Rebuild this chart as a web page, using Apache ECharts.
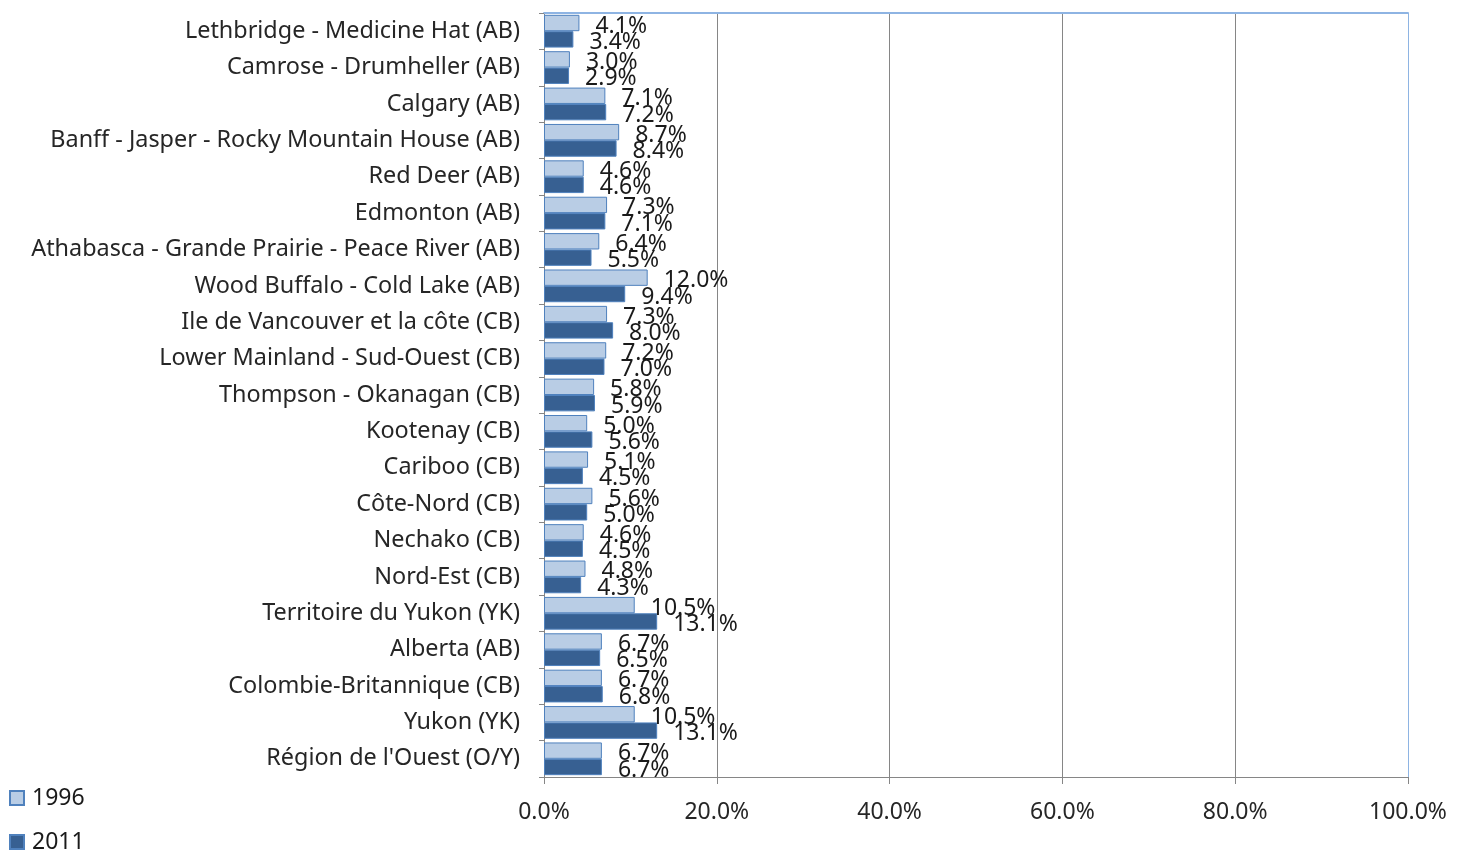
<!DOCTYPE html>
<html>
<head>
<meta charset="utf-8">
<script src="https://cdn.jsdelivr.net/npm/echarts@6/dist/echarts.min.js"></script>
<style>
  html, body { margin: 0; padding: 0; background: #fff; }
  #chart { width: 1461px; height: 857px; }
</style>
</head>
<body>
<div id="chart"></div>
<script>
// Regions, listed top to bottom
const regions = [
  "Lethbridge - Medicine Hat (AB)",
  "Camrose - Drumheller (AB)",
  "Calgary (AB)",
  "Banff - Jasper - Rocky Mountain House (AB)",
  "Red Deer (AB)",
  "Edmonton (AB)",
  "Athabasca - Grande Prairie - Peace River (AB)",
  "Wood Buffalo - Cold Lake (AB)",
  "Ile de Vancouver et la côte (CB)",
  "Lower Mainland - Sud-Ouest (CB)",
  "Thompson - Okanagan (CB)",
  "Kootenay (CB)",
  "Cariboo (CB)",
  "Côte-Nord (CB)",
  "Nechako (CB)",
  "Nord-Est (CB)",
  "Territoire du Yukon (YK)",
  "Alberta (AB)",
  "Colombie-Britannique (CB)",
  "Yukon (YK)",
  "Région de l'Ouest (O/Y)"
];

// Shares in percent
const values1996 = [4.1, 3.0, 7.1, 8.7, 4.6, 7.3, 6.4, 12.0, 7.3, 7.2, 5.8, 5.0, 5.1, 5.6, 4.6, 4.8, 10.5, 6.7, 6.7, 10.5, 6.7];
const values2011 = [3.4, 2.9, 7.2, 8.4, 4.6, 7.1, 5.5, 9.4, 8.0, 7.0, 5.9, 5.6, 4.5, 5.0, 4.5, 4.3, 13.1, 6.5, 6.8, 13.1, 6.7];

const seriesNames = ["1996", "2011"];

const FONT = "Noto Sans";
const pct = v => v.toFixed(1) + "%";

const chart = echarts.init(document.getElementById("chart"), null, { renderer: "canvas" });

const labelStyle = {
  show: true,
  position: "right",
  distance: 16,
  offset: [0, 3],
  fontFamily: FONT,
  fontSize: 23,
  color: "#1a1a1a",
  formatter: p => pct(p.value)
};

chart.setOption({
  animation: false,
  backgroundColor: "#ffffff",
  textStyle: { fontFamily: FONT },
  grid: { left: 544, right: 53, top: 13, bottom: 80, containLabel: false },
  legend: {
    orient: "vertical",
    left: 9,
    top: 786,
    padding: 0,
    itemWidth: 14,
    itemHeight: 14,
    itemGap: 20,
    icon: "rect",
    textStyle: { fontFamily: FONT, fontSize: 23, lineHeight: 24, color: "#1a1a1a", padding: [0, 0, 0, 3] },
    data: seriesNames
  },
  xAxis: [
    {
      type: "value",
      min: 0,
      max: 100,
      interval: 20,
      position: "bottom",
      axisLine: { show: true, lineStyle: { color: "#868686", width: 1 } },
      axisTick: { show: true, length: 7, lineStyle: { color: "#868686" } },
      axisLabel: {
        fontFamily: FONT,
        fontSize: 23,
        color: "#262626",
        margin: 24,
        formatter: v => v.toFixed(1) + "%"
      },
      splitLine: {
        show: true,
        lineStyle: {
          color: ["#868686", "#868686", "#868686", "#868686", "#868686", "#8EB4E3"],
          width: 1
        }
      }
    },
    {
      type: "value",
      min: 0,
      max: 100,
      position: "top",
      axisLine: { show: true, lineStyle: { color: "#8EB4E3", width: 2 } },
      axisTick: { show: false },
      axisLabel: { show: false },
      splitLine: { show: false }
    }
  ],
  yAxis: {
    type: "category",
    inverse: true,
    data: regions,
    axisLine: { show: true, lineStyle: { color: "#868686", width: 1 } },
    axisTick: { show: true, length: 5, lineStyle: { color: "#868686" } },
    axisLabel: {
      fontFamily: FONT,
      fontSize: 23.4,
      color: "#262626",
      margin: 24
    }
  },
  series: [
    {
      name: seriesNames[0],
      type: "bar",
      data: values1996,
      barGap: "0%",
      barCategoryGap: "10%",
      itemStyle: { color: "#B9CDE5", borderColor: "#4F81BD", borderWidth: 1 },
      label: labelStyle
    },
    {
      name: seriesNames[1],
      type: "bar",
      data: values2011,
      barGap: "0%",
      barCategoryGap: "10%",
      itemStyle: { color: "#376092", borderColor: "#4F81BD", borderWidth: 1 },
      label: labelStyle
    }
  ]
});
</script>
</body>
</html>
